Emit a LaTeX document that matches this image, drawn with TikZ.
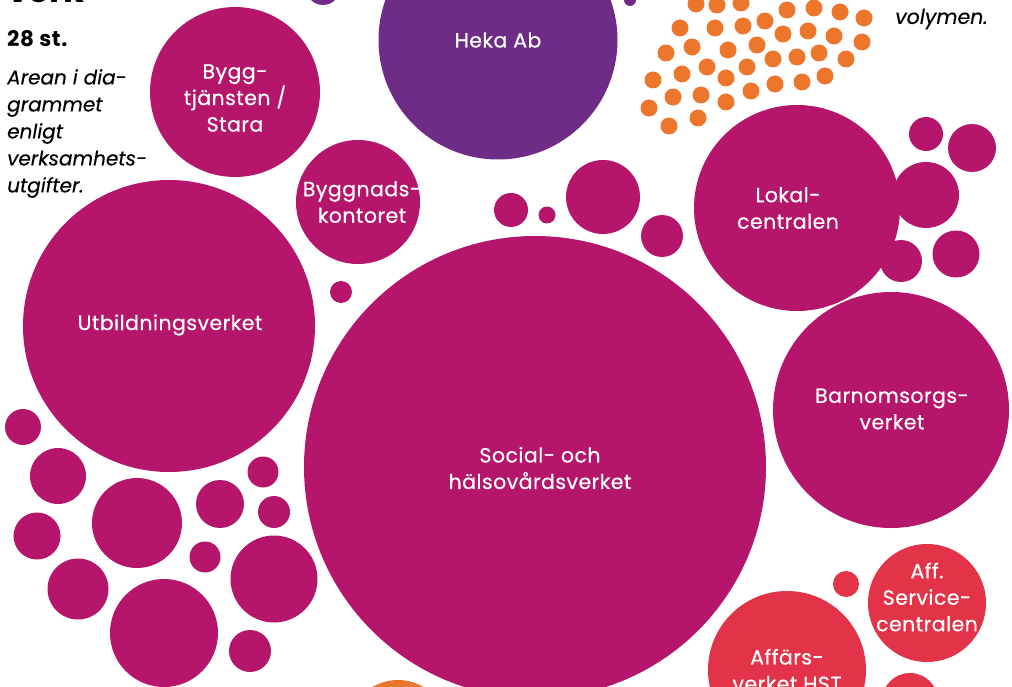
\documentclass[tikz,border=0pt]{standalone}
\usepackage{fontspec}
\setmainfont{Poppins}
\definecolor{mag}{RGB}{181,22,108}
\definecolor{pur}{RGB}{110,44,135}
\definecolor{ora}{RGB}{237,118,45}
\definecolor{redc}{RGB}{226,51,72}
\tikzset{
  bub/.style={circle,inner sep=0pt,minimum size=#1},
  lab/.style={text=white,align=center,font=\fontsize{20.5}{26.5}\selectfont\addfontfeatures{LetterSpace=2.2,FakeBold=0.4}},
  side/.style={align=left,anchor=north west,inner sep=0pt,font=\fontsize{20}{27}\selectfont\itshape\addfontfeatures{FakeBold=0.3}}
}
\begin{document}
\begin{tikzpicture}[x=1pt,y=-1pt]
\useasboundingbox (0,0) rectangle (1012,687);
\clip (0,0) rectangle (1012,687);
% big bubbles
\node[bub=239pt,fill=pur] (heka) at (498,40) {};
\node[bub=170pt,fill=mag] (bygg) at (235,92) {};
\node[bub=124pt,fill=mag] (byggk) at (358,202) {};
\node[bub=292pt,fill=mag] (utb) at (169,326) {};
\node[bub=462pt,fill=mag] (soc) at (535,467) {};
\node[bub=206pt,fill=mag] (lok) at (797,208) {};
\node[bub=236pt,fill=mag] (barn) at (891,410) {};
\node[bub=118pt,fill=redc] (aff) at (927,603) {};
\node[bub=158pt,fill=redc] (affhst) at (787,670) {};
\node[bub=26pt,fill=redc] (r1) at (846,584) {};
\node[bub=56pt,fill=redc] (r2) at (910,701) {};
\node[bub=100pt,fill=ora] (o1) at (398,730) {};
\node[bub=34pt,fill=pur] (p1) at (323,-12) {};
\node[bub=12pt,fill=pur] (p2) at (630,0) {};
% small magenta bubbles
\foreach \x/\y/\d [count=\i] in {603/197/74, 511/210/34, 547/215/17, 662/236/42, 341/292/22,
  926/134/34, 972/148/48, 926/195/66, 901/261/42, 956/254/47,
  23/427/36, 58/476/56, 137/523/90, 220/504/48, 263/472/31, 274/512/32,
  37/536/47, 205/557/31, 274/579/87, 78/589/61, 164/633/108, 250/651/42}
  \node[bub=\d pt,fill=mag] (m\i) at (\x,\y) {};
% orange dots
\foreach \x/\y [count=\i] in {696/4, 717/5, 741/3, 787/10, 814/8, 840/12, 864/18,
  765/21, 743/26, 715/28, 680/28, 783/34, 808/31, 834/36, 862/42,
  692/47, 728/50, 757/45, 666/53, 773/59, 797/57, 819/53, 846/59,
  707/67, 747/67, 682/74, 653/80, 726/78, 775/84, 802/82, 825/76,
  751/91, 673/97, 701/95, 726/102, 649/108, 698/118, 669/126}
  \node[bub=17pt,fill=ora] (o\i d) at (\x,\y) {};
% labels
\node[lab] (lheka) at (heka) {Heka Ab};
\node[lab] (lbygg) at (235,98) {Bygg-\\tjänsten /\\Stara};
\node[lab] (lbyggk) at (362,202) {Byggnads-\\kontoret};
\node[lab] (lutb) at (170,325) {Utbildningsverket};
\node[lab] (llok) at (788,208) {Lokal-\\centralen};
\node[lab] (lbarn) at (892,409) {Barnomsorgs-\\verket};
\node[lab] (lsoc) at (540,468) {Social- och\\hälsovårdsverket};
\node[lab] (laff) at (927,597) {Aff.\\Service-\\centralen};
\node[lab] (laffhst) at (787,670) {Affärs-\\verket HST};
% side texts
\node[anchor=base west,inner sep=0pt,font=\fontsize{34}{34}\selectfont\bfseries] (tverk) at (7,3) {verk};
\node[anchor=west,inner sep=0pt,font=\fontsize{21.5}{22}\selectfont\bfseries\addfontfeatures{LetterSpace=3}] (tst) at (7,39) {28 st.};
\node[side] (tarea) at (7,69) {Arean i dia-\\grammet\\enligt\\verksamhets-\\utgifter.};
\node[anchor=west,inner sep=0pt,font=\fontsize{20.5}{22}\selectfont\itshape\addfontfeatures{FakeBold=0.3}] (tvol) at (895,19) {volymen.};
\end{tikzpicture}
\end{document}
